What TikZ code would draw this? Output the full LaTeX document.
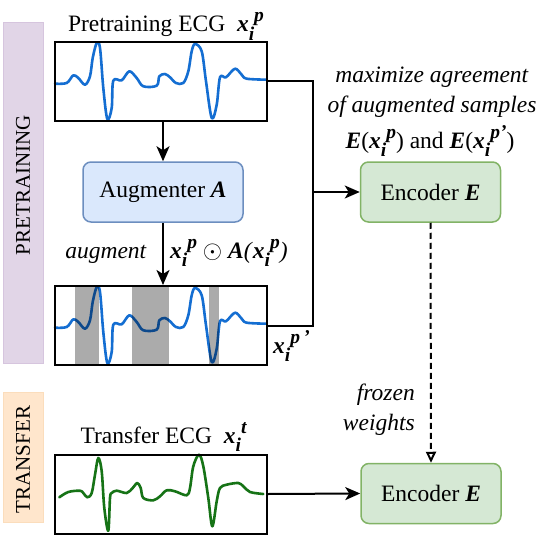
\documentclass[tikz,border=0pt]{standalone}
\usepackage{fontspec}
\setmainfont{Liberation Serif}[BoldFont={Liberation Serif Bold}, ItalicFont={Liberation Serif Italic}, BoldItalicFont={Liberation Serif Bold Italic}]
\usetikzlibrary{arrows.meta}
\definecolor{pretrainfill}{HTML}{E1D5E7}
\definecolor{pretraindraw}{HTML}{D6C5DE}
\definecolor{transferfill}{HTML}{FFE6CC}
\definecolor{transferdraw}{HTML}{FBDDBC}
\definecolor{augfill}{HTML}{DAE8FC}
\definecolor{augdraw}{HTML}{6C8EBF}
\definecolor{encfill}{HTML}{D5E8D4}
\definecolor{encdraw}{HTML}{82B366}
\definecolor{ecgblue}{RGB}{20,110,210}
\definecolor{ecggreen}{RGB}{22,115,22}
\newcommand{\mainsz}{\fontsize{23.5}{28}\selectfont}
\newcommand{\subsz}{\fontsize{19.5}{20}\selectfont}
\newcommand{\bandsz}{\fontsize{21}{24}\selectfont}
\newcommand{\xsub}[1]{\textbf{\textit{x\raisebox{-0.36em}{\subsz i}\raisebox{0.42em}{\subsz #1}}}}
\tikzset{
  txt/.style={inner sep=0pt, font=\mainsz},
  ecgbox/.style={draw=black, line width=2pt, minimum width=212pt, minimum height=79pt, inner sep=0pt},
  augbox/.style={draw=augdraw, fill=augfill, line width=1.5pt, rounded corners=8pt, minimum width=160pt, minimum height=60pt, font=\mainsz},
  encbox/.style={draw=encdraw, fill=encfill, line width=1.5pt, rounded corners=8pt, minimum width=140pt, minimum height=60pt, font=\mainsz},
  conn/.style={line width=2pt, black},
  arr/.style={conn, -{Stealth[length=15pt,width=13pt,inset=4pt]}},
  bluewave/.pic={\draw[ecgblue, line width=2.6pt, line cap=round, line join=round] plot[smooth,tension=0.55] coordinates {(55,83.7) (66.7,83) (73.3,75.3) (78.3,78) (85,84.7) (90,76.3) (92.7,58) (96.7,43) (100,48) (103.3,88) (107.3,119) (111.7,108) (113.3,80.7) (121.7,80.3) (129.3,71.3) (136.7,78) (143.3,86.3) (156.7,85.7) (159.3,76.3) (165,74) (170,77.3) (176,83) (183.3,83) (188.3,71.3) (191.7,51.3) (195,44) (201.7,51.3) (206,81.3) (211.7,118) (216.7,104.7) (220,77.3) (226,77.3) (235,68.7) (241.7,74.7) (246.7,78.7) (266.7,79.7)};}
}
\begin{document}
\begin{tikzpicture}[x=1pt,y=-1pt]
\useasboundingbox (0,0) rectangle (541,535);
% bands
\node[draw=pretraindraw, fill=pretrainfill, line width=0.8pt, minimum width=40pt, minimum height=341pt, inner sep=0pt] (pband) at (23,192.5) {};
\node[draw=transferdraw, fill=transferfill, line width=0.8pt, minimum width=40pt, minimum height=130pt, inner sep=0pt] (tband) at (23,457) {};
\node[rotate=90, font=\bandsz, inner sep=0pt] (plabel) at (23,185) {PRETRAINING};
\node[rotate=90, font=\bandsz, inner sep=0pt] (tlabel) at (23,459.5) {TRANSFER};
% ECG boxes
\node[ecgbox, fill=white] (box1) at (161,81.5) {};
\node[ecgbox, fill=white] (box2) at (161,325.5) {};
\node[ecgbox, fill=white] (box3) at (161,494) {};
\pic (w1) at (0,0) {bluewave};
\pic (w2) at (0,244) {bluewave};
\fill[black, opacity=0.33] (75,286) rectangle (99,365);
\fill[black, opacity=0.33] (132,286) rectangle (169,365);
\fill[black, opacity=0.33] (209,286) rectangle (219,365);
\draw[ecggreen, line width=2.6pt, line cap=round, line join=round] plot[smooth,tension=0.55] coordinates {(59.3,497.3) (68.3,492) (80,490.7) (83.3,493) (87.3,497.3) (91.7,493) (95,474.7) (98.3,458) (101.7,471.3) (104.3,508) (108.3,530.7) (110,498) (111.7,493) (116.7,490.7) (126.7,493) (132.7,488) (137.3,483) (140.7,488) (143.3,498) (153.3,500.3) (160,496.3) (166.7,490.3) (175,491.3) (186.7,495.3) (190,488) (193.3,466.3) (199,454.7) (203.3,466.3) (208.3,498) (212.3,526.3) (216.7,501.3) (220,488) (226.7,484.7) (238.3,483) (243.3,486.3) (250,492) (263.3,494)};
\node[ecgbox] (box1b) at (box1) {};
\node[ecgbox] (box2b) at (box2) {};
\node[ecgbox] (box3b) at (box3) {};
% process boxes
\node[augbox] (aug) at (163,192) {Augmenter \textbf{\textit{A}}};
\node[encbox] (enc1) at (430.5,192) {Encoder \textbf{\textit{E}}};
\node[encbox] (enc2) at (431,493.5) {Encoder \textbf{\textit{E}}};
% connectors
\coordinate (j1) at (313,81.5);
\coordinate (j2) at (313,325.5);
\coordinate (j3) at (313,192);
\draw[conn] (box1.east) -- (j1) -- (j2) -- (box2.east);
\draw[arr] (j3) -- (enc1.west);
\draw[arr] (aug.north |- box1.south) -- (aug.north);
\draw[arr] (aug.south) -- (aug.south |- box2.north);
\draw[line width=2pt, dash pattern=on 6pt off 4pt, -{Triangle[open, length=11pt, width=10pt]}] (enc1.south) -- (enc2.north);
\draw[arr] (box3.east) -- (enc2.west);
% labels
\node[txt, anchor=base] (t1) at (166,31.7) {Pretraining ECG\ \ \xsub{p}};
\node[txt, anchor=base] (t2) at (432,82) {\textit{maximize agreement}};
\node[txt, anchor=base] (t3) at (432,113) {\textit{of augmented samples}};
\node[txt, anchor=base] (t4) at (430,148) {\textbf{\textit{E}}(\xsub{p}) and \textbf{\textit{E}}(\xsub{p'})};
\node[txt, anchor=base] (t5) at (106,258) {\textit{augment}};
\node[txt, anchor=base west] (t6) at (170,258) {\xsub{p} $\odot$ \textbf{\textit{A}}\textit{(}\xsub{p}\textit{)}};
\node[txt, anchor=base west] (t7) at (273,353) {\xsub{p\,'}};
\node[txt, anchor=base east] (t8) at (415,400.7) {\textit{frozen}};
\node[txt, anchor=base east] (t9) at (415,430) {\textit{weights}};
\node[txt, anchor=base] (t10) at (163.5,443) {Transfer ECG\ \ \xsub{t}};
\end{tikzpicture}
\end{document}
